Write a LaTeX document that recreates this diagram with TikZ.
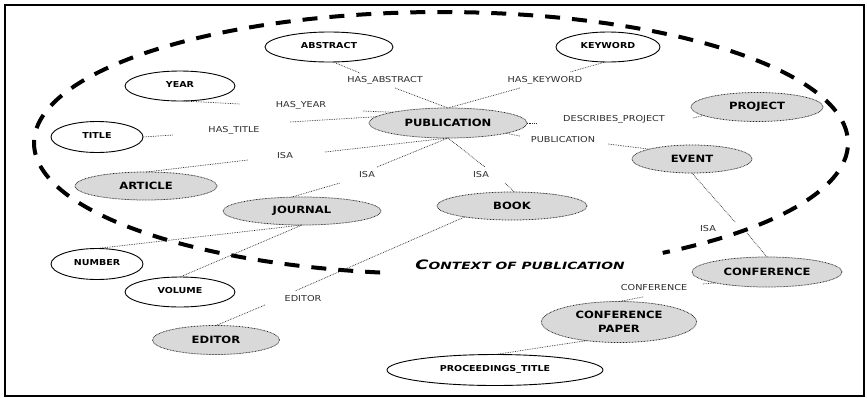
\documentclass[tikz,border=0pt]{standalone}
\usepackage{fontspec}
\usetikzlibrary{shapes.geometric}
\setmainfont{DejaVu Sans}
\newfontfamily\conceptfont{DejaVu Sans}[FakeStretch=1.16, BoldFont={DejaVu Sans Bold}]
\newfontfamily\relfont{DejaVu Sans}[FakeStretch=1.18]
\newfontfamily\ctxfont{DejaVu Sans Bold Oblique}[FakeStretch=1.38]
\definecolor{conceptgrey}{RGB}{217,217,217}
\definecolor{reltext}{RGB}{45,45,45}
\tikzset{
  entity/.style={ellipse, draw=black, line width=0.9pt, fill=white,
    inner sep=0pt, outer sep=0pt, text height=6pt, text depth=3.5pt,
    font=\conceptfont\bfseries\fontsize{8.2}{10}\selectfont},
  concept/.style={ellipse, draw=black!85, line width=0.75pt,
    dash pattern=on 0.75pt off 0.75pt, fill=conceptgrey,
    inner sep=0pt, outer sep=0pt, align=center,
    font=\conceptfont\bfseries\fontsize{10}{13.5}\selectfont},
  rel/.style={draw=black!85, line width=0.7pt, dash pattern=on 0.7pt off 1pt},
  lbl/.style={inner sep=0pt, text=reltext,
    font=\relfont\fontsize{8.2}{10}\selectfont},
  ctxline/.style={line width=4pt, dash pattern=on 15pt off 12pt}
}
\begin{document}
\begin{tikzpicture}[x=1pt,y=-1pt]
\useasboundingbox (0,0) rectangle (867,397);
\fill[white] (0,0) rectangle (867,397);
\draw[line width=2pt] (4.5,4.5) rectangle (863.5,395.5);

% boundary of the publication context, open where its caption sits
\draw[ctxline] plot[domain=98.6:417, samples=400]
  ({441+407*cos(\x)},{143+131*sin(\x)});
\node[inner sep=0pt, font=\ctxfont] (ctx) at (520,265)
  {\fontsize{13}{13}\selectfont C\fontsize{10}{13}\selectfont ONTEXT OF PUBLICATION};

% attribute entities
\node[entity, minimum width=128pt, minimum height=30pt] (abstract) at (329,47) {ABSTRACT};
\node[entity, minimum width=104pt, minimum height=30pt] (keyword) at (608,47) {KEYWORD};
\node[entity, minimum width=110pt, minimum height=30pt] (year) at (180,86) {YEAR};
\node[entity, minimum width=92pt, minimum height=31pt] (title) at (97,137) {TITLE};
\node[entity, minimum width=92pt, minimum height=31pt] (number) at (97,264) {NUMBER};
\node[entity, minimum width=110pt, minimum height=30pt] (volume) at (180,292) {VOLUME};
\node[entity, minimum width=216pt, minimum height=31pt] (proc) at (495,370) {PROCEEDINGS\_TITLE};

% concepts
\node[concept, minimum width=158pt, minimum height=30pt] (pub) at (448,123) {PUBLICATION};
\node[concept, minimum width=142pt, minimum height=28pt] (article) at (146,186) {ARTICLE};
\node[concept, minimum width=132pt, minimum height=29pt] (project) at (757,107) {PROJECT};
\node[concept, minimum width=120pt, minimum height=28pt] (event) at (692,159) {EVENT};
\node[concept, minimum width=158pt, minimum height=28pt] (journal) at (302,211) {JOURNAL};
\node[concept, minimum width=150pt, minimum height=28pt] (book) at (512,206) {BOOK};
\node[concept, minimum width=127pt, minimum height=29pt] (editor) at (216,340) {EDITOR};
\node[concept, minimum width=150pt, minimum height=30pt] (conference) at (767,272) {CONFERENCE};
\node[concept, minimum width=155pt, minimum height=41pt] (confpaper) at (619,322) {CONFERENCE\\PAPER};

% relation labels
\node[lbl] (lAbs) at (385,80) {HAS\_ABSTRACT};
\node[lbl] (lKey) at (545,80) {HAS\_KEYWORD};
\node[lbl] (lYear) at (301,105) {HAS\_YEAR};
\node[lbl] (lTitle) at (234,130) {HAS\_TITLE};
\node[lbl] (lIsaArt) at (285,156) {ISA};
\node[lbl] (lIsaJour) at (367,175) {ISA};
\node[lbl] (lIsaBook) at (481,175) {ISA};
\node[lbl] (lProj) at (614,119) {DESCRIBES\_PROJECT};
\node[lbl] (lPub) at (563,140) {PUBLICATION};
\node[lbl] (lIsaConf) at (708,229) {ISA};
\node[lbl] (lConf) at (654,288) {CONFERENCE};
\node[lbl] (lEd) at (303,299) {EDITOR};

% free ends of the relation segments
\coordinate (aAbs) at (360,73);   \coordinate (bAbs) at (395,88);
\coordinate (aKey) at (570,72);   \coordinate (bKey) at (520,88);
\coordinate (aYear) at (240,104); \coordinate (bYear) at (363,111);
\coordinate (aTitle) at (173,135);\coordinate (bTitle) at (290,122);
\coordinate (aArt) at (248,160);  \coordinate (bArt) at (325,152);
\coordinate (aJour) at (340,183); \coordinate (bJour) at (377,167);
\coordinate (aBook) at (485,167); \coordinate (bBook) at (505,183);
\coordinate (aProj) at (537,123); \coordinate (bProj) at (693,118);
\coordinate (aEvent) at (520,136);\coordinate (bEvent) at (608,144);
\coordinate (aConf) at (735,222); \coordinate (bConf) at (747,233);
\coordinate (aPaper) at (702,284);\coordinate (bPaper) at (643,297);
\coordinate (aEd) at (295,291);   \coordinate (bEd) at (265,305);

% relations
\draw[rel] (abstract.-75) -- (aAbs);   \draw[rel] (bAbs) -- (pub.north);
\draw[rel] (keyword.-100) -- (aKey);   \draw[rel] (bKey) -- (pub.north);
\draw[rel] (year.-80) -- (aYear);      \draw[rel] (bYear) -- (pub.169);
\draw[rel] (title.east) -- (aTitle);   \draw[rel] (bTitle) -- (pub.175);
\draw[rel] (article.north) -- (aArt);  \draw[rel] (bArt) -- (pub.south);
\draw[rel] (journal.127) -- (aJour);   \draw[rel] (bJour) -- (pub.south);
\draw[rel] (pub.south) -- (aBook);     \draw[rel] (bBook) -- (book.80);
\draw[rel] (pub.east) -- (aProj);      \draw[rel] (bProj) -- (project.189);
\draw[rel] (pub.-10) -- (aEvent);      \draw[rel] (bEvent) -- (event.167);
\draw[rel] (event.south) -- (aConf);   \draw[rel] (bConf) -- (conference.north);
\draw[rel] (conference.192) -- (aPaper); \draw[rel] (bPaper) -- (confpaper.north);
\draw[rel] (proc.north) -- (confpaper.210);
\draw[rel] (book.193) -- (aEd);        \draw[rel] (bEd) -- (editor.north);
\draw[rel] (number.north) -- (journal.south);
\draw[rel] (volume.north) -- (journal.south);
\end{tikzpicture}
\end{document}
